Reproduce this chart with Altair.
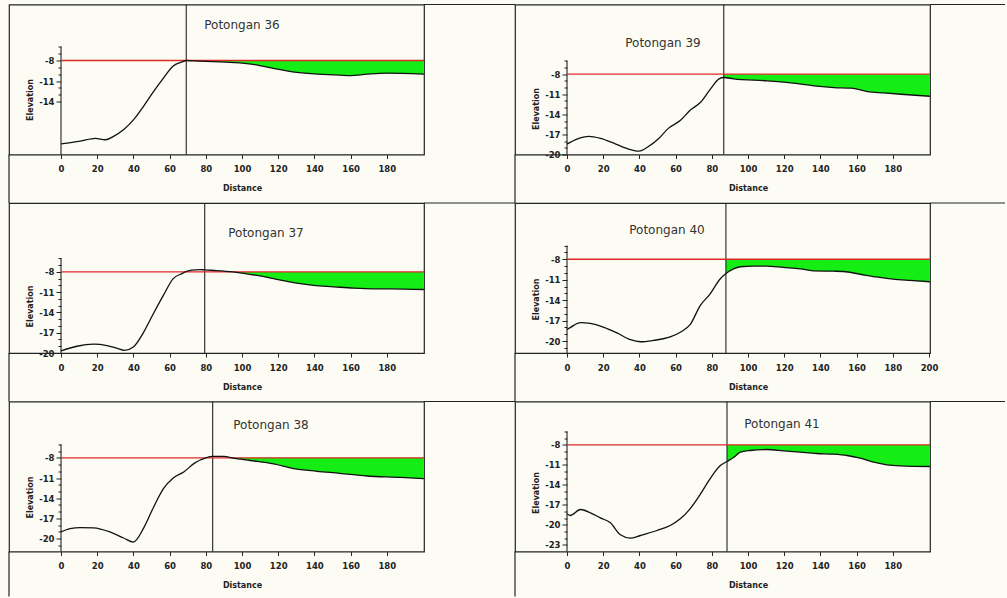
import altair as alt
import pandas as pd

# ---------------- data ----------------
names = ["Potongan 36", "Potongan 39", "Potongan 37", "Potongan 40", "Potongan 38", "Potongan 41"]

p36_d = [0, 10.7, 19, 24.5, 29, 34.7, 40, 45.6, 51, 56.8, 62, 67, 69.2, 77, 95.6, 107, 118, 129, 142, 151, 160, 169, 180, 200.5]
p36_e = [-20.2, -19.8, -19.4, -19.6, -19.1, -18.1, -16.7, -14.7, -12.6, -10.5, -8.8, -8.2, -8.0, -8.1, -8.3, -8.6, -9.2, -9.7, -10.0, -10.1, -10.2, -10.0, -9.85, -10.0]

p39_d = [0, 5.5, 12, 18.5, 25.8, 33, 39.7, 45, 50.7, 56, 62.7, 68, 73.8, 79.3, 84, 86.6, 92, 110.7, 123.6, 138, 147.6, 157, 166, 175, 184.5, 200.5]
p39_e = [-18.45, -17.7, -17.3, -17.6, -18.3, -19.1, -19.5, -18.8, -17.6, -16.1, -14.9, -13.4, -12.2, -10.2, -8.7, -8.5, -8.7, -9.0, -9.3, -9.8, -10.0, -10.1, -10.6, -10.8, -11.0, -11.3]

p37_d = [0, 8.8, 18, 25.4, 31, 35, 40, 45.7, 51, 56.7, 62, 66.8, 72, 77, 79.4, 86, 95, 101, 110, 119, 128.5, 139.6, 150.6, 161.7, 172.7, 182, 200.5]
p37_e = [-19.7, -19.0, -18.7, -18.9, -19.3, -19.6, -19.1, -16.9, -14.2, -11.4, -9.0, -8.25, -7.75, -7.65, -7.7, -7.8, -8.0, -8.2, -8.6, -9.1, -9.6, -10.0, -10.2, -10.4, -10.5, -10.5, -10.6]

p40_d = [0, 2.2, 7.4, 12.9, 20, 27.6, 35, 40.5, 47.8, 57, 62.6, 68, 73.6, 79, 84.6, 87.8, 92, 95.7, 103, 110, 119.6, 128.8, 136, 147, 152.7, 162, 171, 180, 189.5, 200.5]
p40_e = [-18.3, -17.95, -17.3, -17.4, -17.95, -18.8, -19.8, -20.1, -19.9, -19.4, -18.7, -17.6, -14.8, -13.1, -10.9, -10.1, -9.4, -9.1, -9.0, -9.0, -9.2, -9.4, -9.7, -9.75, -9.8, -10.2, -10.6, -10.9, -11.1, -11.3]

p38_d = [0, 5, 10.7, 18, 27, 34.6, 40, 45.7, 51, 56.7, 62, 67.8, 74, 80, 83.8, 90, 95, 104.6, 117.5, 128.5, 141.4, 154, 169, 187.5, 200.5]
p38_e = [-19.0, -18.5, -18.35, -18.4, -19.0, -19.9, -20.5, -18.4, -15.4, -12.55, -11.0, -10.1, -8.75, -8.0, -7.8, -7.8, -8.05, -8.4, -8.9, -9.6, -10.0, -10.3, -10.7, -10.9, -11.1]

p41_d = [0, 1.8, 7.4, 12.9, 18.4, 24, 29.5, 35, 40.5, 49.7, 57, 62.6, 68, 73.7, 79, 84.7, 88.4, 92, 95.8, 101, 110.5, 119.7, 128.9, 138, 147, 154.7, 162, 169.4, 176.8, 184, 200.5]
p41_e = [-18.35, -18.6, -17.7, -18.2, -18.95, -19.7, -21.5, -22.0, -21.6, -20.85, -20.1, -19.1, -17.6, -15.4, -13.1, -11.1, -10.5, -9.9, -9.1, -8.85, -8.7, -8.9, -9.1, -9.3, -9.4, -9.6, -10.0, -10.6, -11.0, -11.15, -11.25]

profile_d = [p36_d, p39_d, p37_d, p40_d, p38_d, p41_d]
profile_e = [p36_e, p39_e, p37_e, p40_e, p38_e, p41_e]
cut_x = [69.2, 86.6, 79.4, 87.8, 83.8, 88.4]
water_level = -8
y_lows = [-21.76, -20.0, -20.0, -21.75, -21.9, -24.0]
y_highs = [0.2, 2.4, 2.2, 0.25, 0.35, -1.5]
y_tick_values = [
    list(range(-6, -15, -1)),
    list(range(-6, -21, -1)),
    list(range(-6, -21, -1)),
    list(range(-6, -22, -1)),
    list(range(-6, -22, -1)),
    list(range(-6, -24, -1)),
]
axis_top = -6
x_tick_values = [0, 20, 40, 60, 80, 100, 120, 140, 160, 180]
x_tick_values_full = x_tick_values + [200]
x_min, x_max = -28.73, 200.55

# ---------------- layout / style ----------------
BOX_W, BOX_H = 415, 150
COL_GAP, ROW_GAP = 91, 48.5
AXIS_X = 52                      # pixel position of the elevation axis inside each box
title_pos = [(233, 20), (148, 38), (257, 30), (152, 27), (262, 23), (267, 22)]
elev_title_y = [95, 104, 103, 96, 95.5, 91]
cell_right = [506, 490, 506, 490, 506, 490]
cell_bottom = [198.5, 198.5, 198.5, 198.5, 195, 195]

FONT = "DejaVu Sans"
INK = "#222222"
GREEN = "#14ee14"
RED = "#e02828"
BG = "#fcfcf5"


def panel(i):
    df = pd.DataFrame({"d": profile_d[i], "e": profile_e[i]})
    xs = alt.Scale(domain=[x_min, x_max], nice=False, zero=False)
    ys = alt.Scale(domain=[y_lows[i], y_highs[i]], nice=False, zero=False)
    cut = cut_x[i]
    xvals = x_tick_values_full if i == 3 else x_tick_values

    x_axis = alt.Axis(
        values=xvals, title="Distance", grid=False, domain=False,
        tickSize=4, tickColor=INK, tickWidth=1, labelPadding=6,
        labelFont=FONT, labelFontSize=8.5, labelFontWeight="bold", labelColor=INK,
        labelFlush=False, labelOverlap=False,
        titleFont=FONT, titleFontSize=8, titleFontWeight="bold", titleColor=INK,
        titleX=233, titleY=36, titleBaseline="alphabetic", titleAlign="center",
    )
    y_axis = alt.Axis(
        values=y_tick_values[i], orient="left", offset=-AXIS_X, grid=False, domain=False,
        tickSize={"condition": {"test": "(datum.value + 8) % 3 == 0", "value": 5}, "value": 3},
        tickColor=INK, tickWidth=1, labelPadding=2,
        labelExpr="(datum.value + 8) % 3 == 0 ? '' + datum.value : ''",
        labelFont=FONT, labelFontSize=8.5, labelFontWeight="bold", labelColor=INK,
        labelOverlap=False, labelFlush=False,
        title="Elevation", titleFont=FONT, titleFontSize=8, titleFontWeight="bold",
        titleColor=INK, titleAngle=270, titleAlign="center", titleBaseline="alphabetic",
        titleX=20.5 - AXIS_X + 2.9, titleY=elev_title_y[i],
    )

    def X(field):
        return alt.X(field, scale=xs, axis=x_axis)

    def Y(field):
        return alt.Y(field, scale=ys, axis=y_axis)

    area = (
        alt.Chart(df)
        .transform_filter(f"datum.d >= {cut}")
        .transform_calculate(w=f"{water_level}", lo=f"min(datum.e, {water_level})")
        .mark_area(color=GREEN, interpolate="monotone", opacity=1)
        .encode(x=X("d:Q"), y=Y("w:Q"), y2="lo:Q")
    )
    red = (
        alt.Chart(pd.DataFrame({"x0": [0], "x1": [x_max], "w": [water_level]}))
        .mark_rule(color=RED, strokeWidth=1.3, opacity=1)
        .encode(x=X("x0:Q"), x2="x1:Q", y=Y("w:Q"))
    )
    vline = (
        alt.Chart(pd.DataFrame({"c": [cut]}))
        .mark_rule(color=INK, strokeWidth=1.1)
        .encode(x=X("c:Q"))
    )
    yline = (
        alt.Chart(pd.DataFrame({"x": [0], "t": [axis_top], "b": [y_lows[i]]}))
        .mark_rule(color=INK, strokeWidth=1.1)
        .encode(x=X("x:Q"), y=Y("t:Q"), y2="b:Q")
    )
    line = (
        alt.Chart(df)
        .mark_line(color="#111111", strokeWidth=1.3, interpolate="monotone")
        .encode(x=X("d:Q"), y=Y("e:Q"))
    )
    tx, ty = title_pos[i]
    title = (
        alt.Chart(pd.DataFrame({"t": [names[i]]}))
        .mark_text(font=FONT, fontSize=12, color="#333333", align="center", baseline="middle")
        .encode(text="t:N", x=alt.value(tx), y=alt.value(ty))
    )
    one = pd.DataFrame({"k": [1]})
    top_ext = (
        alt.Chart(one)
        .mark_rule(color=INK, strokeWidth=1.2)
        .encode(x=alt.value(BOX_W), x2=alt.value(cell_right[i]), y=alt.value(0))
    )
    left_ext = (
        alt.Chart(one)
        .mark_rule(color=INK, strokeWidth=1.2)
        .encode(x=alt.value(0), y=alt.value(BOX_H), y2=alt.value(cell_bottom[i]))
    )
    return alt.layer(area, vline, yline, red, line, title, top_ext, left_ext).properties(
        width=BOX_W, height=BOX_H
    )


chart = (
    alt.concat(*[panel(i) for i in range(6)], columns=2,
               spacing={"row": ROW_GAP, "column": COL_GAP}, bounds="flush")
    .properties(background=BG, padding={"left": 7, "top": 2.5, "right": 0, "bottom": 0})
    .configure_view(stroke=INK, strokeWidth=1.2)
)

chart.save("out.html", embed_options={"renderer": "svg", "actions": False})
